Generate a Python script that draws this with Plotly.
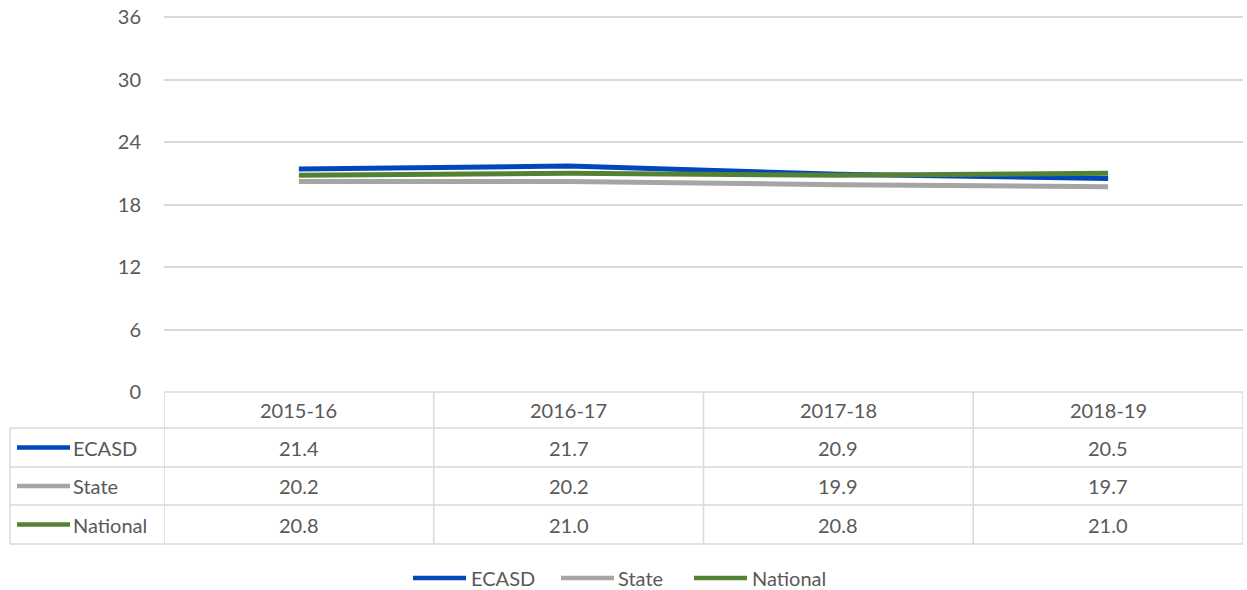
import plotly.graph_objects as go

categories = ["2015-16", "2016-17", "2017-18", "2018-19"]
series_names = ["ECASD", "State", "National"]
ecasd = [21.4, 21.7, 20.9, 20.5]
state = [20.2, 20.2, 19.9, 19.7]
national = [20.8, 21.0, 20.8, 21.0]
colors = ["#0047BB", "#A5A5A5", "#548235"]
y_ticks = [0, 6, 12, 18, 24, 30, 36]
y_max = 36

W, H = 1247, 590
UNIT = (392 - 17) / y_max          # pixels per y unit
YTOP = y_max + 0.1                 # tiny headroom so the top gridline is drawn
L, R = 164, 4
B = H - 392
T = int(round(392 - YTOP * UNIT))
PW = W - L - R
PH = H - T - B
FONT = "Lato"
FS = 20
TXT = "#595959"
GRID = "#D9D9D9"

def px(x):
    return (x - L) / PW

def py(y):
    return (H - B - y) / PH

fig = go.Figure()
xs = list(range(len(categories)))
for name, vals, col in zip(series_names, [ecasd, state, national], colors):
    fig.add_trace(go.Scatter(x=xs, y=vals, mode="lines", name=name,
                             line=dict(color=col, width=5), showlegend=False))

shapes = []
annotations = []
row_edges = [392, 428, 467, 505, 544]
ncol = len(categories)
lw = 1.5
shapes.append(dict(type="line", xref="paper", yref="paper", x0=0, x1=1,
                   y0=py(row_edges[0]), y1=py(row_edges[0]), line=dict(color=GRID, width=lw)))
for ry in row_edges[1:]:
    shapes.append(dict(type="line", xref="paper", yref="paper", x0=px(10), x1=1,
                       y0=py(ry), y1=py(ry), line=dict(color=GRID, width=lw)))
for i in range(ncol + 1):
    shapes.append(dict(type="line", xref="x", yref="paper", x0=i - 0.5, x1=i - 0.5,
                       y0=py(row_edges[0]), y1=py(row_edges[-1]), line=dict(color=GRID, width=lw)))
shapes.append(dict(type="line", xref="paper", yref="paper", x0=px(10), x1=px(10),
                   y0=py(row_edges[1]), y1=py(row_edges[-1]), line=dict(color=GRID, width=lw)))

font = dict(family=FONT, size=FS, color=TXT)
for i, c in enumerate(categories):
    annotations.append(dict(x=i, y=py((row_edges[0] + row_edges[1]) / 2), xref="x", yref="paper",
                            text=c, showarrow=False, xanchor="center", yanchor="middle", font=font))
for r, (name, vals, col) in enumerate(zip(series_names, [ecasd, state, national], colors)):
    yc = py((row_edges[r + 1] + row_edges[r + 2]) / 2)
    for i, v in enumerate(vals):
        annotations.append(dict(x=i, y=yc, xref="x", yref="paper", text=f"{v:.1f}",
                                showarrow=False, xanchor="center", yanchor="middle", font=font))
    shapes.append(dict(type="line", xref="paper", yref="paper", x0=px(17), x1=px(70),
                       y0=yc, y1=yc, line=dict(color=col, width=4.5)))
    annotations.append(dict(x=px(71), y=yc, xref="paper", yref="paper", text=name,
                            xanchor="left", yanchor="middle", showarrow=False, font=font))

leg = [(413, 466, 469), (561, 614, 616), (694, 747, 750)]
ly = py(578)
for (x0, x1, xt), name, col in zip(leg, series_names, colors):
    shapes.append(dict(type="line", xref="paper", yref="paper", x0=px(x0), x1=px(x1),
                       y0=ly, y1=ly, line=dict(color=col, width=4.5)))
    annotations.append(dict(x=px(xt), y=ly, xref="paper", yref="paper", text=name,
                            xanchor="left", yanchor="middle", showarrow=False, font=font))

fig.update_layout(
    width=W, height=H,
    margin=dict(l=L, r=R, t=T, b=B),
    plot_bgcolor="white", paper_bgcolor="white",
    shapes=shapes, annotations=annotations,
    xaxis=dict(range=[-0.5, ncol - 0.5], showticklabels=False, showgrid=False,
               zeroline=False, showline=False, fixedrange=True),
    yaxis=dict(range=[0, YTOP], tickvals=y_ticks, showgrid=True, gridcolor=GRID, gridwidth=lw,
               zeroline=False, showline=False, ticklabelstandoff=22,
               ticklabeloverflow="allow", automargin=False,
               tickfont=font),
)
fig.write_html("out.html", config={"displayModeBar": False},
               post_script="document.body.style.margin='0';document.body.style.overflow='hidden';")
